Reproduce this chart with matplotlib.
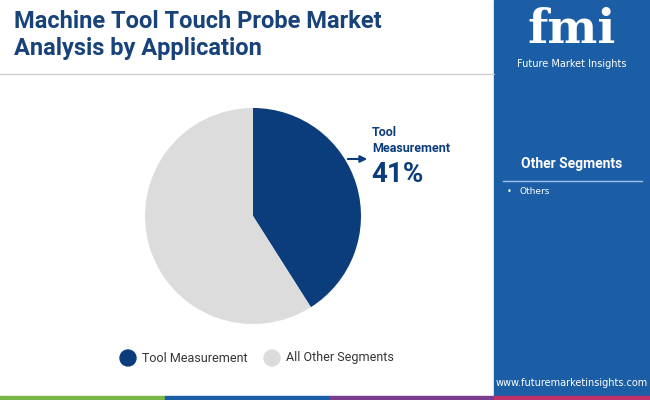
import matplotlib
matplotlib.use("Agg")
import matplotlib.pyplot as plt
from matplotlib.patches import Rectangle, Circle

categories = ["Tool Measurement", "All Other Segments"]
values = [41, 59]
colors = ["#0b3d7c", "#dcdcdc"]
other_items = ["Others"]

W, H = 650, 400
fig = plt.figure(figsize=(6.5, 4.0), dpi=100)
bg = fig.add_axes([0, 0, 1, 1])
bg.set_xlim(0, W); bg.set_ylim(H, 0); bg.axis("off")

bg.add_patch(Rectangle((494, 0), 156, 400, color="#1c5ea6"))
bg.plot([0, 494], [74, 74], color="#c8c8c8", lw=0.8)
bg.add_patch(Rectangle((0, 396), 165, 4, color="#7ab648"))
bg.add_patch(Rectangle((165, 396), 165, 4, color="#1c5ea6"))
bg.add_patch(Rectangle((330, 396), 164, 4, color="#7b3d8f"))
bg.add_patch(Rectangle((494, 396), 156, 4, color="#c0306a"))

bg.text(14, 22, "Machine Tool Touch Probe Market", fontsize=17, fontweight="bold",
        color="#17427a", va="center", family="Roboto")
bg.text(14, 49, "Analysis by Application", fontsize=17, fontweight="bold",
        color="#17427a", va="center", family="Roboto")

bg.text(572, 30, "fmi", fontsize=34, fontweight="bold", color="white", ha="center",
        va="center", family="DejaVu Serif")
bg.text(572, 64, "Future Market Insights", fontsize=7, color="white", ha="center", va="center")

bg.text(572, 164, "Other Segments", fontsize=10, fontweight="bold", color="white",
        ha="center", va="center", family="Roboto")
bg.plot([503, 642], [181, 181], color="#9fc0e6", lw=1)
for i, it in enumerate(other_items):
    bg.text(507, 192 + i * 14, "•", fontsize=6, color="white", va="center")
    bg.text(519, 192 + i * 14, it, fontsize=6.5, color="white", va="center")
bg.text(572, 383, "www.futuremarketinsights.com", fontsize=7, color="white",
        ha="center", va="center")

ax = fig.add_axes([(253 - 108) / W, 1 - (216 + 108) / H, 216 / W, 216 / H])
ax.pie(values, colors=colors, startangle=90, counterclock=False,
       wedgeprops=dict(linewidth=0))
ax.set_xlim(-1, 1); ax.set_ylim(-1, 1)
ax.set_aspect("equal")

bg.annotate("", xy=(370, 159), xytext=(345, 159),
            arrowprops=dict(arrowstyle="-|>", color="#0b3d7c", lw=1.5))
bg.text(372, 133, "Tool", fontsize=9, fontweight="bold", color="#0b3d7c", va="center", family="Roboto")
bg.text(372, 148, "Measurement", fontsize=9, fontweight="bold", color="#0b3d7c", va="center", family="Roboto")
bg.text(371, 175, f"{values[0]}%", fontsize=20, fontweight="bold", color="#0b3d7c", va="center", family="Roboto")

lx = [128, 272]
for i, c in enumerate(categories):
    bg.add_patch(Circle((lx[i], 358), 8, color=colors[i]))
    bg.text(lx[i] + 14, 358, c, fontsize=9, color="#333333", va="center", family="Roboto")

fig.savefig("out.png", dpi=100)
